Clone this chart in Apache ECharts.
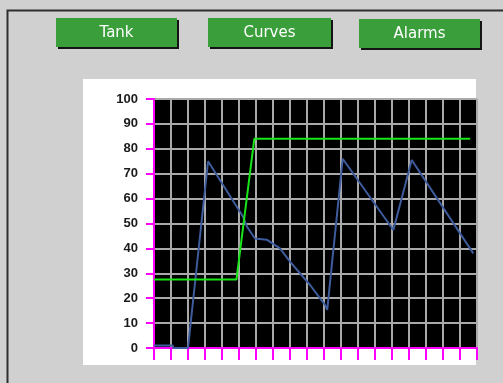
<!DOCTYPE html>
<html>
<head>
<meta charset="utf-8">
<script src="https://cdn.jsdelivr.net/npm/echarts@6/dist/echarts.min.js"></script>
<style>
  html, body { margin: 0; padding: 0; background: #d0d0d0; }
  #chart { width: 503px; height: 383px; }
</style>
</head>
<body>
<div id="chart"></div>
<script>
// Navigation buttons
const buttonLabels = ['Tank', 'Curves', 'Alarms'];

// Measured level (blue trace): sample times and values
const levelTime  = [0, 1.1, 1.15, 2, 3.18, 5.24, 5.47, 5.94, 6.63, 7.41, 8.0, 9.18, 10.06, 10.19, 11.1, 14.08, 15.16, 18.78];
const levelValue = [1, 1, 0, 0, 75, 52.7, 48.7, 44, 43.5, 40, 34.7, 25.3, 17.3, 15.3, 76, 47.4, 75.5, 38];

// Setpoint (green trace)
const setpointTime  = [0, 4.85, 5.9, 18.6];
const setpointValue = [27.5, 27.5, 84, 84];

const chart = echarts.init(document.getElementById('chart'), null, { renderer: 'canvas' });

const buttonBoxes = [
  { x: 56, y: 18, w: 121, h: 29 },
  { x: 208, y: 18, w: 123, h: 29 },
  { x: 359, y: 19, w: 121, h: 29 }
];

const graphics = [
  // window frame
  { type: 'rect', z: -20, silent: true, shape: { x: 0, y: 0, width: 503, height: 383 }, style: { fill: '#d0d0d0' } },
  { type: 'polyline', z: -19, silent: true, shape: { points: [[7.5, 383], [7.5, 10.5], [503, 10.5]] }, style: { stroke: '#2e2e2e', lineWidth: 2, fill: null } },
  // white chart panel
  { type: 'rect', z: -18, silent: true, shape: { x: 83, y: 79, width: 393, height: 286 }, style: { fill: '#ffffff' } }
];

buttonLabels.forEach((label, i) => {
  const b = buttonBoxes[i];
  graphics.push({ type: 'rect', z: -17, silent: true, shape: { x: b.x + 2, y: b.y + 2, width: b.w, height: b.h }, style: { fill: '#141414' } });
  graphics.push({ type: 'rect', z: -16, silent: true, shape: { x: b.x, y: b.y, width: b.w, height: b.h }, style: { fill: '#3a9e3a' } });
  graphics.push({
    type: 'text', z: -15, silent: true,
    x: b.x + b.w / 2, y: b.y + b.h / 2 + 1,
    style: { text: label, fill: '#ffffff', font: '15px "DejaVu Sans"', align: 'center', verticalAlign: 'middle' }
  });
});

const magenta = '#ff00ff';
const gridGray = '#a9a9a9';

chart.setOption({
  animation: false,
  backgroundColor: '#d0d0d0',
  graphic: graphics,
  grid: {
    left: 154, top: 99, right: 26, bottom: 35,
    show: true, backgroundColor: '#000000', borderWidth: 0
  },
  xAxis: {
    type: 'value', min: 0, max: 19, interval: 1,
    axisLine: { show: true, onZero: false, lineStyle: { color: magenta, width: 2 } },
    axisTick: { show: true, length: 12, lineStyle: { color: magenta, width: 2 } },
    axisLabel: { show: false },
    splitLine: { show: true, lineStyle: { color: gridGray, width: 2 } }
  },
  yAxis: {
    type: 'value', min: 0, max: 100, interval: 10,
    axisLine: { show: true, onZero: false, lineStyle: { color: magenta, width: 2 } },
    axisTick: { show: true, length: 8, lineStyle: { color: magenta, width: 2 } },
    axisLabel: {
      show: true, margin: 16, color: '#1a1a1a',
      fontFamily: '"Liberation Sans"', fontWeight: 'bold', fontSize: 13
    },
    splitLine: { show: true, lineStyle: { color: gridGray, width: 2 } }
  },
  series: [
    {
      type: 'line', name: 'Level', showSymbol: false, z: 3,
      data: levelTime.map((t, i) => [t, levelValue[i]]),
      lineStyle: { color: '#3e5c9e', width: 2 }
    },
    {
      type: 'line', name: 'Setpoint', showSymbol: false, z: 4,
      data: setpointTime.map((t, i) => [t, setpointValue[i]]),
      lineStyle: { color: '#19e619', width: 2 }
    }
  ]
});
</script>
</body>
</html>
